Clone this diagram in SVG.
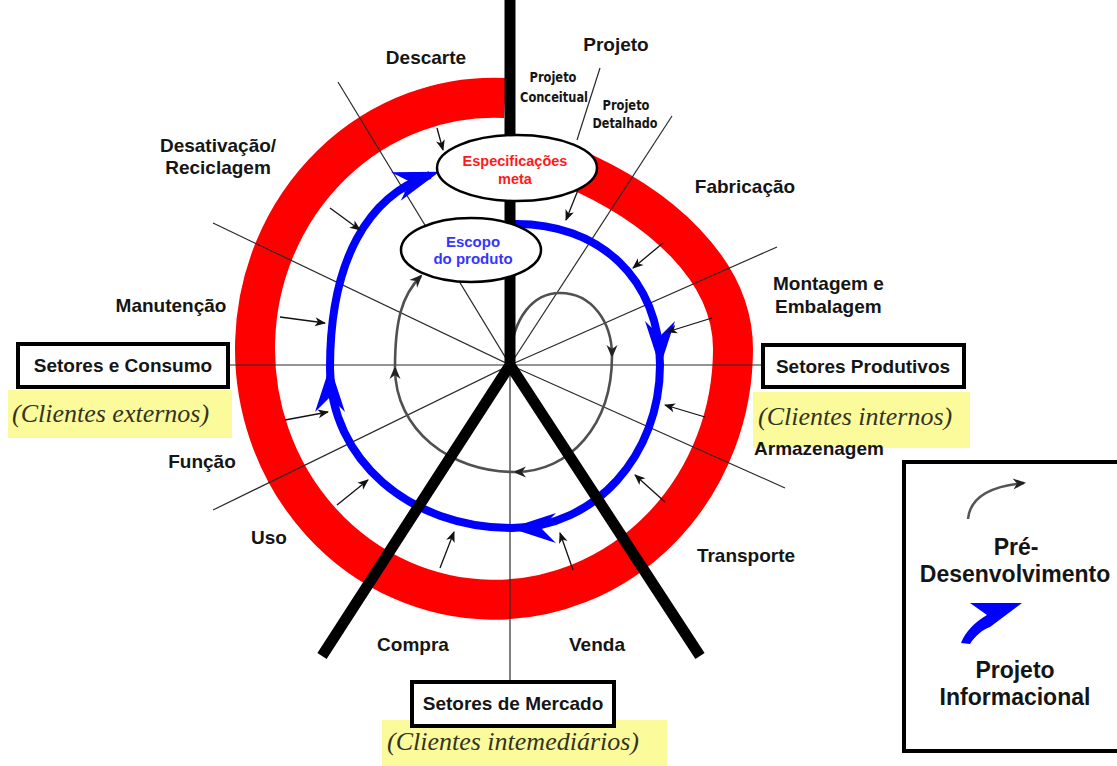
<svg xmlns="http://www.w3.org/2000/svg" width="1117" height="766" viewBox="0 0 1117 766">
<style>
.lbl{font-family:"Liberation Sans",Arial,sans-serif;font-weight:bold;font-size:19px;fill:#151515}
.cnd{font-family:"Liberation Sans Narrow","DejaVu Sans Condensed","Liberation Sans",sans-serif;font-weight:bold;font-size:14px;fill:#151515}
.it{font-family:"Liberation Serif","Times New Roman",serif;font-style:italic;font-size:26px;fill:#333322}
.leg{font-family:"Liberation Sans",Arial,sans-serif;font-weight:bold;font-size:23px;fill:#151515}
.thin{stroke:#2a2a2a;stroke-width:1.2;fill:none}
.sa{stroke:#111;stroke-width:1.3;fill:none;marker-end:url(#sa)}
.gl{stroke:#505050;stroke-width:2.6;fill:none;marker-end:url(#ga)}
.bl{stroke:#0000ff;stroke-width:8;fill:none}
.box{fill:#fff;stroke:#000;stroke-width:4}
.hl{fill:#fbfb9c}
</style>
<defs>
<marker id="sa" markerUnits="userSpaceOnUse" viewBox="-12 -6 14 12" markerWidth="14" markerHeight="12" refX="0" refY="0" orient="auto"><path d="M1,0 L-10,-4.5 L-7,0 L-10,4.5 Z" fill="#111"/></marker>
<marker id="ga" markerUnits="userSpaceOnUse" viewBox="-13 -7 16 14" markerWidth="16" markerHeight="14" refX="0" refY="0" orient="auto"><path d="M2,0 L-11,-5.5 L-7,0 L-11,5.5 Z" fill="#222"/></marker>
<marker id="bh" markerUnits="userSpaceOnUse" viewBox="-46 -17 52 34" markerWidth="52" markerHeight="34" refX="0" refY="0" orient="auto"><path d="M2,0 L-44,-15 L-29,0 L-44,15 Z" fill="#0000ff"/></marker>
<marker id="bhe" markerUnits="userSpaceOnUse" viewBox="-40 -17 55 34" markerWidth="55" markerHeight="34" refX="0" refY="0" orient="auto"><path d="M10,0 L-36,-15 L-21,0 L-36,15 Z" fill="#0000ff"/></marker>
</defs>

<g id="red-ring">
<path d="M505,98 A239 251 0 1 0 733,349 C733,270 660,205 568,166" fill="none" stroke="#ff0000" stroke-width="40"/>
</g>

<g id="connectors">
<g id="radial-lines">
<line class="thin" x1="338" y1="82" x2="510" y2="365"/>
<line class="thin" x1="213" y1="223" x2="510" y2="365"/>
<line class="thin" x1="230" y1="365" x2="762" y2="365" stroke="#555"/>
<line class="thin" x1="213" y1="510" x2="510" y2="365"/>
<line class="thin" x1="510" y1="365" x2="510" y2="680"/>
<line class="thin" x1="510" y1="365" x2="785" y2="488"/>
<line class="thin" x1="510" y1="365" x2="777" y2="247"/>
<line class="thin" x1="510" y1="365" x2="672" y2="116"/>
<line class="thin" x1="600" y1="68" x2="577" y2="140"/>
</g>
<g id="blue-flow">
<path class="bl" d="M512,224 C600,222 660,280 660,365" marker-end="url(#bh)"/>
<path class="bl" d="M660,365 C660,455 595,528 512,528" marker-end="url(#bh)"/>
<path class="bl" d="M512,528 C410,528 330,460 330,368" marker-end="url(#bh)"/>
<path class="bl" d="M330,368 C330,260 368,196 430,175" marker-end="url(#bhe)"/>
</g>
<g id="gray-loop">
<path class="gl" d="M510,362 C512,315 535,293 560,293 C592,293 612,322 612,356"/>
<path class="gl" d="M612,356 C612,425 570,472 515,472"/>
<path class="gl" d="M515,472 C450,472 395,430 395,368"/>
<path class="gl" d="M395,368 C395,320 402,295 421,276"/>
</g>
<g id="small-arrows">
<line class="sa" x1="437" y1="128" x2="443" y2="150"/>
<line class="sa" x1="578" y1="190" x2="566" y2="220"/>
<line class="sa" x1="663" y1="243" x2="633" y2="268"/>
<line class="sa" x1="712" y1="318" x2="667" y2="332"/>
<line class="sa" x1="705" y1="417" x2="665" y2="405"/>
<line class="sa" x1="665" y1="502" x2="635" y2="475"/>
<line class="sa" x1="573" y1="570" x2="560" y2="533"/>
<line class="sa" x1="440" y1="568" x2="454" y2="532"/>
<line class="sa" x1="337" y1="505" x2="368" y2="480"/>
<line class="sa" x1="285" y1="420" x2="328" y2="412"/>
<line class="sa" x1="280" y1="317" x2="325" y2="323"/>
<line class="sa" x1="330" y1="208" x2="360" y2="230"/>
</g>
<g id="black-frame">
<path d="M510,0 L510,365 M322,656 L510,365 L700,656" fill="none" stroke="#000" stroke-width="11" stroke-linejoin="miter"/>
</g>
</g>

<g id="node-especificacoes">
<ellipse cx="517" cy="168" rx="80" ry="33" fill="#fff" stroke="#000" stroke-width="2.5"/>
<text class="lbl" x="515" y="166" text-anchor="middle" style="font-size:14.5px;fill:#ff1a1a">Especificações</text>
<text class="lbl" x="515" y="184" text-anchor="middle" style="font-size:14.5px;fill:#ff1a1a">meta</text>
</g>
<g id="node-escopo">
<ellipse cx="471" cy="250" rx="70" ry="32" fill="#fff" stroke="#000" stroke-width="2.5"/>
<text class="lbl" x="473" y="247" text-anchor="middle" style="font-size:15px;fill:#3535ff">Escopo</text>
<text class="lbl" x="473" y="264" text-anchor="middle" style="font-size:15px;fill:#3535ff">do produto</text>
</g>

<g id="node-consumo">
<rect class="hl" x="8" y="390" width="224" height="48"/>
<rect class="box" x="18" y="344" width="210" height="43"/>
<text class="lbl" x="123" y="372" text-anchor="middle">Setores e Consumo</text>
<text class="it" x="12" y="422">(Clientes externos)</text>
</g>
<g id="node-produtivos">
<rect class="hl" x="753" y="392" width="217" height="56"/>
<rect class="box" x="763" y="345" width="201" height="42"/>
<text class="lbl" x="863" y="373" text-anchor="middle">Setores Produtivos</text>
<text class="it" x="758" y="425">(Clientes internos)</text>
</g>
<g id="node-mercado">
<rect class="hl" x="382" y="720" width="285" height="46"/>
<rect class="box" x="412" y="682" width="202" height="44"/>
<text class="lbl" x="513" y="710" text-anchor="middle">Setores de Mercado</text>
<text class="it" x="387" y="750">(Clientes intemediários)</text>
</g>

<g id="labels">
<text class="lbl" x="616" y="51" text-anchor="middle">Projeto</text>
<text class="lbl" x="426" y="64" text-anchor="middle">Descarte</text>
<text class="cnd" x="553" y="82" text-anchor="middle" textLength="47" lengthAdjust="spacingAndGlyphs">Projeto</text>
<text class="cnd" x="554" y="102" text-anchor="middle" textLength="68" lengthAdjust="spacingAndGlyphs">Conceitual</text>
<text class="cnd" x="626" y="110" text-anchor="middle" textLength="47" lengthAdjust="spacingAndGlyphs">Projeto</text>
<text class="cnd" x="625" y="128" text-anchor="middle" textLength="65" lengthAdjust="spacingAndGlyphs">Detalhado</text>
<text class="lbl" x="218" y="152" text-anchor="middle">Desativação/</text>
<text class="lbl" x="218" y="174" text-anchor="middle">Reciclagem</text>
<text class="lbl" x="745" y="193" text-anchor="middle">Fabricação</text>
<text class="lbl" x="773" y="290">Montagem e</text>
<text class="lbl" x="775" y="313">Embalagem</text>
<text class="lbl" x="171" y="312" text-anchor="middle">Manutenção</text>
<text class="lbl" x="819" y="455" text-anchor="middle">Armazenagem</text>
<text class="lbl" x="202" y="468" text-anchor="middle">Função</text>
<text class="lbl" x="269" y="544" text-anchor="middle">Uso</text>
<text class="lbl" x="746" y="562" text-anchor="middle">Transporte</text>
<text class="lbl" x="413" y="651" text-anchor="middle">Compra</text>
<text class="lbl" x="597" y="651" text-anchor="middle">Venda</text>
</g>

<g id="legend">
<rect class="box" x="904" y="462" width="230" height="289"/>
<path d="M968,519 C970,498 990,486 1024,483" fill="none" stroke="#555" stroke-width="2.5" marker-end="url(#ga)"/>
<text class="leg" x="1016" y="555" text-anchor="middle">Pré-</text>
<text class="leg" x="1015" y="582" text-anchor="middle">Desenvolvimento</text>
<path d="M1022,603 L970,603 L987,615 C975,622 965,632 961,643 L970,644 C975,636 982,630 990,627 Z" fill="#0000ff"/>
<text class="leg" x="1015" y="678" text-anchor="middle">Projeto</text>
<text class="leg" x="1015" y="705" text-anchor="middle">Informacional</text>
</g>
</svg>
